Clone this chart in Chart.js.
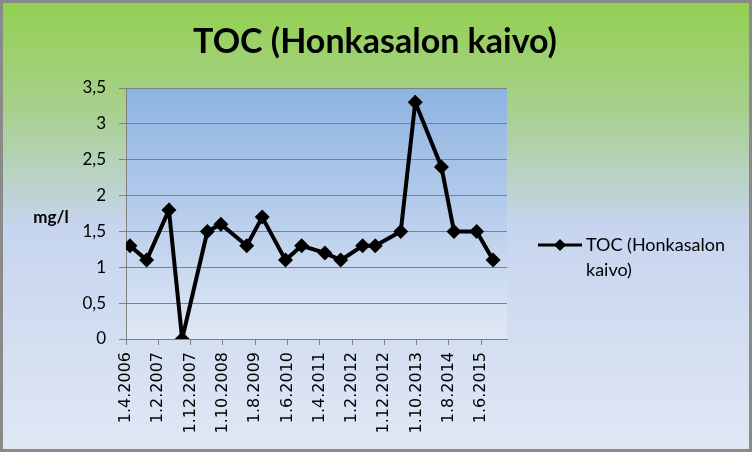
<!DOCTYPE html>
<html>
<head>
<meta charset="utf-8">
<script src="https://cdn.jsdelivr.net/npm/chart.js@4/dist/chart.umd.min.js"></script>
<style>
html,body{margin:0;padding:0;background:#fff;}
#wrap{width:752px;height:452px;position:relative;}
</style>
</head>
<body>
<div id="wrap"><canvas id="c" width="752" height="452"></canvas></div>
<script>
// Data (sample dates as d.m.yyyy, values in mg/l)
const sampleDates = ["8.5.2006","13.10.2006","10.5.2007","13.9.2007","7.5.2008","13.9.2008","13.5.2009","7.10.2009","13.5.2010","13.10.2010","19.5.2011","16.10.2011","10.5.2012","7.9.2012","4.5.2013","19.9.2013","22.5.2014","19.9.2014","19.4.2015","22.9.2015"];
const tocValues = [1.3,1.1,1.8,0,1.5,1.6,1.3,1.7,1.1,1.3,1.2,1.1,1.3,1.3,1.5,3.3,2.4,1.5,1.5,1.1];
const xTickLabels = ["1.4.2006","1.2.2007","1.12.2007","1.10.2008","1.8.2009","1.6.2010","1.4.2011","1.2.2012","1.12.2012","1.10.2013","1.8.2014","1.6.2015"];
const axisEnd = "1.2.2016";
const yTicks = [0,0.5,1,1.5,2,2.5,3,3.5];
const seriesName = "TOC (Honkasalon kaivo)";
const titleText = "TOC (Honkasalon kaivo)";
const yTitle = "mg/l";

// convert d.m.yyyy to months since 1.4.2006
function toMonths(s){
  const [d,m,y] = s.split(".").map(Number);
  return (y-2006)*12 + (m-4) + (d-1)/30.5;
}
const points = sampleDates.map((s,i)=>({x:toMonths(s), y:tocValues[i]}));
const tickPos = xTickLabels.map(toMonths);
const labelByPos = {};
xTickLabels.forEach((l,i)=>{labelByPos[tickPos[i].toFixed(3)] = l;});

const bgPlugin = {
  id:'bg',
  beforeDraw(chart){
    const ctx = chart.ctx, W = chart.width, H = chart.height;
    ctx.save();
    let g = ctx.createLinearGradient(0,0,0,H);
    g.addColorStop(0,'#92D050');
    g.addColorStop(0.25,'#A9D08F');
    g.addColorStop(0.5,'#C6D4EE');
    g.addColorStop(1,'#E0E8F5');
    ctx.fillStyle = g;
    ctx.fillRect(0,0,W,H);
    const a = chart.chartArea;
    let g2 = ctx.createLinearGradient(0,a.top,0,a.bottom);
    g2.addColorStop(0,'#8DB3E2');
    g2.addColorStop(1,'#E1E8F5');
    ctx.fillStyle = g2;
    ctx.fillRect(a.left,a.top,a.right-a.left,a.bottom-a.top);
    ctx.restore();
  },
  afterDraw(chart){
    const ctx = chart.ctx, W = chart.width, H = chart.height;
    ctx.save();
    // border
    ctx.strokeStyle = '#8A8A8A';
    ctx.lineWidth = 3;
    ctx.strokeRect(1.5,1.5,W-3,H-3);
    // title
    ctx.fillStyle = '#000';
    ctx.font = 'bold 34px Lato, "Open Sans", sans-serif';
    ctx.textAlign = 'center';
    ctx.textBaseline = 'middle';
    ctx.fillText(titleText, 375, 42);
    // y title
    ctx.font = 'bold 17px Lato, "Open Sans", sans-serif';
    ctx.fillText(yTitle, 51, 218);
    // legend
    const ly = 245;
    ctx.strokeStyle = '#000';
    ctx.lineWidth = 3;
    ctx.beginPath(); ctx.moveTo(538,ly); ctx.lineTo(582,ly); ctx.stroke();
    ctx.fillStyle = '#000';
    ctx.beginPath();
    ctx.moveTo(560,ly-6); ctx.lineTo(566,ly); ctx.lineTo(560,ly+6); ctx.lineTo(554,ly); ctx.closePath(); ctx.fill();
    ctx.font = '18px Lato, "Open Sans", sans-serif';
    ctx.textAlign = 'left';
    ctx.fillText('TOC (Honkasalon', 586, ly);
    ctx.fillText('kaivo)', 586, ly+25);
    ctx.restore();
  }
};

new Chart(document.getElementById('c'), {
  type:'line',
  data:{datasets:[{
    label: seriesName,
    data: points,
    borderColor:'#000',
    backgroundColor:'#000',
    borderWidth:4,
    pointStyle:'rectRot',
    pointRadius:7.5,
    pointBorderWidth:0,
    pointBackgroundColor:'#000',
    tension:0
  }]},
  options:{
    responsive:false,
    animation:false,
    layout:{padding:{top:88,left:0,right:245,bottom:0}},
    plugins:{legend:{display:false},title:{display:false},tooltip:{enabled:false}},
    scales:{
      x:{
        type:'linear',
        min:0,
        max:toMonths(axisEnd),
        afterBuildTicks(scale){ scale.ticks = tickPos.map(v=>({value:v})); },
        afterFit(scale){ scale.height = 113; },
        grid:{display:true, drawOnChartArea:false, drawTicks:true, tickLength:6, color:'#808080'},
        border:{display:true,color:'#808080',width:1},
        ticks:{
          autoSkip:false,
          minRotation:90,maxRotation:90,
          padding:7,
          color:'#000',
          font:{family:'"DejaVu Sans", sans-serif', size:16},
          callback(v){ return labelByPos[Number(v).toFixed(3)] || ''; }
        }
      },
      y:{
        min:0,max:3.5,
        afterBuildTicks(scale){ scale.ticks = yTicks.map(v=>({value:v})); },
        afterFit(scale){ scale.width = 126; },
        grid:{color:'#808080', tickLength:7, lineWidth:1},
        border:{display:true,color:'#808080',width:1},
        ticks:{
          padding:13,
          color:'#000',
          font:{family:'Lato, "Open Sans", sans-serif', size:17},
          callback(v){ return String(v).replace('.',','); }
        }
      }
    }
  },
  plugins:[bgPlugin]
});
</script>
</body>
</html>
